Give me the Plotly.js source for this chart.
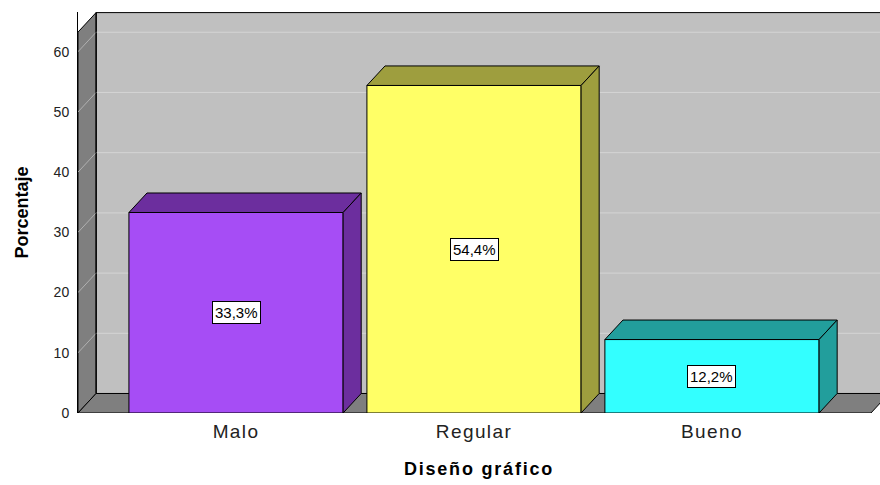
<!DOCTYPE html>
<html>
<head>
<meta charset="utf-8">
<script src="https://cdn.plot.ly/plotly-3.0.1.min.js"></script>
<style>
html,body{margin:0;padding:0;background:#fff;}
#chart{width:880px;height:485px;}
#chart .xtick text{letter-spacing:1.4px;}
#chart .xtitle{letter-spacing:1.8px;}
</style>
</head>
<body>
<div id="chart"></div>
<script>
// ---- data ----
const categories = ["Malo", "Regular", "Bueno"];
const percentages = [33.3, 54.4, 12.2];
const yTickValues = [0, 10, 20, 30, 40, 50, 60];
const xTitle = "Diseño gráfico";
const yTitle = "Porcentaje";
const frontColors = ["#A64DF5", "#FFFF66", "#33FFFF"];
const darkColors = ["#6C2E9E", "#9E9E3E", "#229E9C"];

// ---- geometry (axis units) ----
const xIdx = categories.map((c, i) => i);
const X0 = -0.664, XR = 2.668, XMAX = 2.706;
const YMAX = 66.6, WALLTOP = 66.5;
const DX = 0.076, DY = 3.24;
const HW = 0.45;

const shapes = [];
shapes.push({type: "rect", xref: "x", yref: "y", x0: X0 + DX, x1: XR + DX + 0.2, y0: DY, y1: WALLTOP,
  fillcolor: "#C0C0C0", line: {color: "#000", width: 1}, layer: "below"});
shapes.push({type: "path", xref: "x", yref: "y",
  path: `M${X0},0 L${X0 + DX},${DY} L${X0 + DX},${WALLTOP} L${X0},${WALLTOP - DY} Z`,
  fillcolor: "#7F7F7F", line: {color: "#000", width: 1}, layer: "below"});
shapes.push({type: "path", xref: "x", yref: "y",
  path: `M${X0},0 L${X0 + DX},${DY} L${XR + DX},${DY} L${XR},0 Z`,
  fillcolor: "#7F7F7F", line: {color: "#000", width: 1}, layer: "below"});
yTickValues.slice(1).forEach(v => {
  shapes.push({type: "line", xref: "x", yref: "y", x0: X0 + DX, x1: XR + DX + 0.2, y0: v + DY, y1: v + DY,
    line: {color: "#D4D4D4", width: 1}, layer: "below"});
  shapes.push({type: "line", xref: "x", yref: "y", x0: X0, x1: X0 + DX, y0: v, y1: v + DY,
    line: {color: "#B0B0B0", width: 1}, layer: "below"});
});
shapes.push({type: "line", xref: "x", yref: "y", x0: X0 + DX, x1: X0 + DX, y0: DY, y1: WALLTOP,
  line: {color: "#000", width: 1}, layer: "below"});

const traces = [];
traces.push({type: "bar", x: xIdx, y: percentages, width: 0.9,
  marker: {color: frontColors, line: {color: "#000", width: 1}}, hoverinfo: "skip", showlegend: false});
percentages.forEach((v, i) => {
  const l = i - HW, r = i + HW;
  traces.push({type: "scatter", mode: "lines", fill: "toself", fillcolor: darkColors[i],
    x: [l, l + DX, r + DX, r, l], y: [v, v + DY, v + DY, v, v],
    line: {color: "#000", width: 1}, hoverinfo: "skip", showlegend: false});
  traces.push({type: "scatter", mode: "lines", fill: "toself", fillcolor: darkColors[i],
    x: [r, r, r + DX, r + DX, r], y: [0, v, v + DY, DY, 0],
    line: {color: "#000", width: 1}, hoverinfo: "skip", showlegend: false});
});

const annotations = percentages.map((v, i) => ({
  x: i, y: v / 2, xref: "x", yref: "y", showarrow: false,
  text: v.toFixed(1).replace(".", ",") + "%",
  font: {family: "Liberation Sans, Arial, sans-serif", size: 15, color: "#000"},
  bgcolor: "#FFFFFF", bordercolor: "#000", borderwidth: 1, borderpad: 2
}));

const layout = {
  width: 880, height: 485,
  margin: {l: 78, r: 0, t: 12, b: 72},
  paper_bgcolor: "#FFFFFF", plot_bgcolor: "rgba(0,0,0,0)",
  separators: ",.",
  font: {family: "Liberation Sans, Arial, sans-serif", color: "#222"},
  xaxis: {range: [X0, XMAX], tickvals: xIdx, ticktext: categories, showgrid: false, zeroline: false,
    showline: false, ticks: "", ticklabelstandoff: 5, tickfont: {size: 19, color: "#222"},
    title: {text: xTitle, font: {size: 18, color: "#000", weight: "bold"}, standoff: 21}, fixedrange: true},
  yaxis: {range: [0, YMAX], tickvals: yTickValues, showgrid: false, zeroline: false,
    showline: true, linecolor: "#000", linewidth: 1, ticks: "", ticklabelstandoff: 5,
    tickfont: {size: 14, color: "#222"},
    title: {text: yTitle, font: {size: 18, color: "#000", weight: "bold"}, standoff: 20}, fixedrange: true},
  shapes: shapes,
  annotations: annotations,
  bargap: 0
};

Plotly.newPlot("chart", traces, layout, {displayModeBar: false, staticPlot: true});
</script>
</body>
</html>
